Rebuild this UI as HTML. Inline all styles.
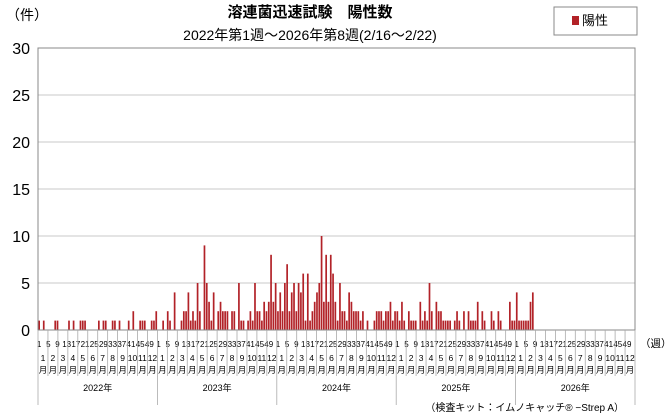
<!DOCTYPE html>
<html><head><meta charset="utf-8">
<style>
body{margin:0;background:#fff;}
svg{display:block;font-family:"Liberation Sans","Noto Sans CJK JP",sans-serif;}
</style></head>
<body>
<svg id="chart" width="670" height="417" viewBox="0 0 670 417">
<text x="310" y="17" text-anchor="middle" font-size="15" font-weight="bold">溶連菌迅速試験　陽性数</text>
<text x="310" y="40" text-anchor="middle" font-size="14">2022年第1週～2026年第8週(2/16～2/22)</text>
<text x="6" y="20" font-size="14">（件）</text>
<g>
<rect x="554" y="7" width="83" height="28" fill="#fff" stroke="#888"/>
<rect x="572" y="16" width="7" height="9" fill="#b22228"/>
<text x="582" y="25" font-size="13">陽性</text>
</g>
<text x="640" y="347" font-size="10.5">（週）</text>
<text x="624" y="411" text-anchor="end" font-size="10">（検査キット：イムノキャッチ® −Strep A）</text>
<g id="grid"></g><g id="bars"></g><g id="axes"></g>
</svg>
<script>
const years = ["2022年","2023年","2024年","2025年","2026年"];
const yTicks = [0,5,10,15,20,25,30];
const weekTicks = ["1","5","9","13","17","21","25","29","33","37","41","45","49"];
const months = ["1","2","3","4","5","6","7","8","9","10","11","12"];
const v2022 = [1,0,1,0,0,0,0,1,1,0, 0,0,0,1,0,1,0,0,1,1, 1,0,0,0,0,0,1,0,1,1, 0,0,1,1,0,1,0,0,0,1, 0,2,0,0,1,1,1,0,0,1, 1,2];
const v2023 = [0,0,1,0,2,1,0,4,0,0, 1,2,2,4,1,2,1,5,2,0, 9,5,3,1,4,0,2,3,2,2, 2,0,2,2,0,5,1,1,0,1, 2,1,5,2,2,1,3,2,3,8, 3,5];
const v2024 = [2,4,2,5,7,2,4,5,2,5, 4,6,1,6,1,2,3,4,5,10, 3,8,3,8,6,3,1,5,2,2, 1,4,3,2,2,2,1,2,0,1, 0,0,1,2,2,2,1,2,2,3, 1,2];
const v2025 = [2,1,3,1,0,2,1,1,1,0, 3,1,2,1,5,2,0,3,2,2, 1,1,1,1,0,1,2,1,0,2, 0,2,1,1,1,3,0,2,1,0, 0,2,1,0,2,1,0,0,0,3, 1,1];
const v2026 = [4,1,1,1,1,1,3,4];

const NS="http://www.w3.org/2000/svg";
const L=38,R=635,T=48,B=330,YMAX=30,WPY=52,NW=years.length*WPY;
const bw=(R-L)/NW;
const xW=i=>L+i*bw;
const yV=v=>B-(v/YMAX)*(B-T);
function mk(tag,attrs,parent,txt){const e=document.createElementNS(NS,tag);for(const k in attrs)e.setAttribute(k,attrs[k]);if(txt!==undefined)e.textContent=txt;parent.appendChild(e);return e;}
const grid=document.getElementById('grid'),bars=document.getElementById('bars'),axes=document.getElementById('axes');
yTicks.forEach(t=>{
  if(t>0){const g=mk('line',{x1:L,x2:R,y1:yV(t),y2:yV(t),stroke:'#c8c8c8','stroke-width':1},grid);
  
  }
  const tx=mk('text',{x:L-8,y:yV(t)+6,'text-anchor':'end','font-size':16},axes,String(t));
  
  
});
const fr=mk('rect',{x:L,y:T,width:R-L,height:B-T,fill:'none',stroke:'#888'},axes);


const all=[v2022,v2023,v2024,v2025,v2026];
all.forEach((arr,yi)=>{arr.forEach((v,w)=>{if(v<=0)return;
  const i=yi*WPY+w;
  const r=mk('rect',{x:xW(i)+0.3,y:yV(v),width:bw-0.6,height:B-yV(v),fill:'#b22228'},bars);
  
  
});});
years.forEach((yl,yi)=>{
  const x0=xW(yi*WPY),x1=xW((yi+1)*WPY);
  weekTicks.forEach(wt=>{const w=+wt;
    const t=mk('text',{x:xW(yi*WPY+w-0.5),y:347,'text-anchor':'middle','font-size':8},axes,wt);
    
    });
  months.forEach((m,mi)=>{
    const ma=x0+(x1-x0)*mi/12,mb=x0+(x1-x0)*(mi+1)/12,mc=(ma+mb)/2;
    const sep=mk('line',{x1:ma,x2:ma,y1:B,y2:mi===0?405:376,stroke:'#aaa','stroke-width':0.8},axes);
    
    
    const t1=mk('text',{x:mc,y:361,'text-anchor':'middle','font-size':8.5},axes,m);
    
    
    const t2=mk('text',{x:mc,y:373,'text-anchor':'middle','font-size':8.5},axes,'月');
    
    
  });
  const yt=mk('text',{x:(x0+x1)/2,y:391,'text-anchor':'middle','font-size':9},axes,yl);
  
  
});
const endSep=mk('line',{x1:R,x2:R,y1:B,y2:405,stroke:'#aaa','stroke-width':0.8},axes);


</script>
</body></html>
